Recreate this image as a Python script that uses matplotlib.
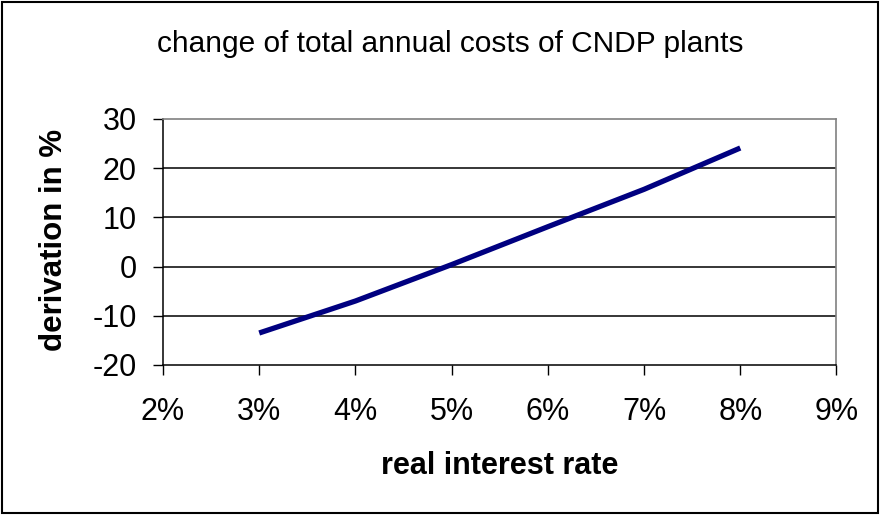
import matplotlib
matplotlib.use("Agg")
import matplotlib.pyplot as plt
from matplotlib.patches import Rectangle
from matplotlib.ticker import FuncFormatter

# dados
taxa = [0.03, 0.04, 0.05, 0.06, 0.07, 0.08]
desvio = [-13.5, -7.0, 0.4, 8.1, 15.7, 24.1]
x_ticks = [0.02, 0.03, 0.04, 0.05, 0.06, 0.07, 0.08, 0.09]
y_ticks = [-20, -10, 0, 10, 20, 30]

titulo = "change of total annual costs of CNDP plants"
rotulo_x = "real interest rate"
rotulo_y = "derivation in %"

plt.rcParams['font.family'] = ['Liberation Sans', 'DejaVu Sans']
plt.rcParams['axes.unicode_minus'] = False

fig = plt.figure(figsize=(8.82, 5.15), dpi=100)
ax = fig.add_axes([0.1848, 0.2913, 0.7636, 0.4777])

# linhas de grade horizontais
for y in y_ticks[1:-1]:
    ax.axhline(y, color="black", lw=1.1, zorder=1)

ax.plot(taxa, desvio, color="#000080", lw=3.8, solid_capstyle="butt", zorder=3)

ax.set_xlim(0.02, 0.09)
ax.set_ylim(-20, 30)
ax.set_xticks(x_ticks)
ax.set_yticks(y_ticks)
ax.xaxis.set_major_formatter(FuncFormatter(lambda v, p: f"{v * 100:.0f}%"))

ax.tick_params(axis="both", direction="out", length=7, width=1.0,
               labelsize=22, color="black")
ax.tick_params(axis="y", pad=12)
ax.tick_params(axis="x", pad=16)

for lado in ["left", "bottom"]:
    ax.spines[lado].set_color("black")
    ax.spines[lado].set_linewidth(1.1)
for lado in ["top", "right"]:
    ax.spines[lado].set_color("#808080")
    ax.spines[lado].set_linewidth(1.2)

fig.text(0.511, 0.915, titulo, ha="center", va="center", fontsize=21.5)
fig.text(0.566, 0.095, rotulo_x, ha="center", va="center",
         fontsize=22, fontweight="bold")
fig.text(0.061, 0.534, rotulo_y, ha="center", va="center", rotation=90,
         fontsize=22.5, fontweight="bold")

# moldura externa
fig.patches.append(Rectangle((0.002, 0.004), 0.994, 0.993, transform=fig.transFigure,
                             fill=False, edgecolor="black", lw=1.5))

fig.savefig("out.png", dpi=100)
